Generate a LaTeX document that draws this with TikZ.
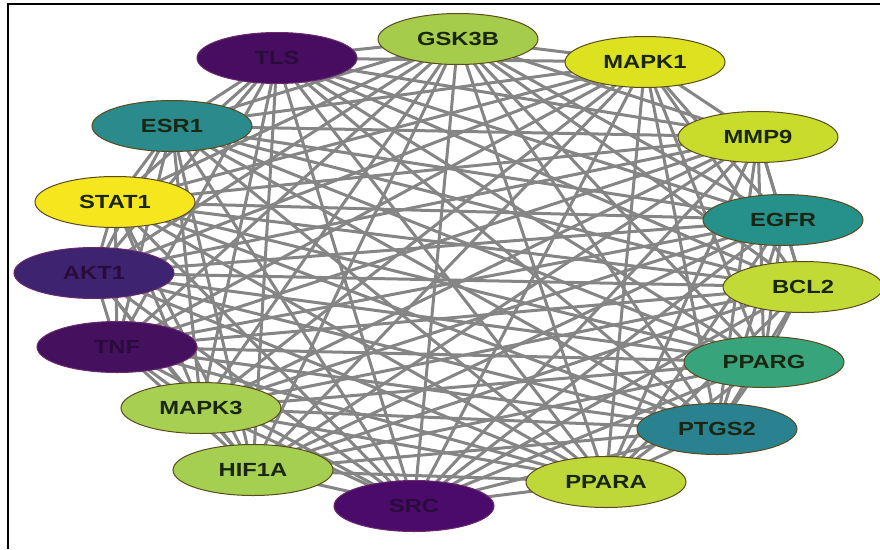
\documentclass[tikz,border=0pt]{standalone}
\usepackage{fontspec}
\setmainfont{Liberation Sans}
\usetikzlibrary{shapes.geometric,backgrounds}

\definecolor{edgegray}{HTML}{858585}
\definecolor{rimc}{HTML}{5A4A1E}
\definecolor{rimdark}{HTML}{6A2A6A}
\definecolor{cTLS}{HTML}{470D60}
\definecolor{cGSK}{HTML}{A5CC4A}
\definecolor{cMAPKa}{HTML}{DCE21F}
\definecolor{cMMP}{HTML}{C8DC2C}
\definecolor{cEGFR}{HTML}{26908A}
\definecolor{cBCL}{HTML}{C2DA36}
\definecolor{cPPARG}{HTML}{38A47C}
\definecolor{cPTGS}{HTML}{2A8290}
\definecolor{cPPARA}{HTML}{BED83A}
\definecolor{cSRC}{HTML}{4B0B6A}
\definecolor{cHIF}{HTML}{A4CF50}
\definecolor{cMAPKc}{HTML}{A7D052}
\definecolor{cTNF}{HTML}{45115F}
\definecolor{cAKT}{HTML}{3D2370}
\definecolor{cSTAT}{HTML}{F6E61E}
\definecolor{cESR}{HTML}{2A8A8C}
\definecolor{txtdark}{HTML}{1A2612}
\definecolor{txtpurple}{HTML}{2A0C3C}

\newcommand{\genelabel}[1]{\scalebox{1.25}[1]{\fontsize{19}{20}\selectfont\bfseries #1}}

\tikzset{
  gene/.style={ellipse, minimum width=160pt, minimum height=51pt, inner sep=0pt,
    line width=1pt, draw=rimc, text=txtdark},
  darkgene/.style={gene, draw=rimdark, text=txtpurple},
  link/.style={draw=edgegray, line width=3pt},
}

\begin{document}
\begin{tikzpicture}[x=1pt,y=-1pt]
\useasboundingbox (0,0) rectangle (880,549);

% gene nodes
\node[darkgene, fill=cTLS]   (TLS)   at (277,58)  {\genelabel{TLS}};
\node[gene, fill=cGSK]       (GSK3B) at (458,39)  {\genelabel{GSK3B}};
\node[gene, fill=cMAPKa]     (MAPK1) at (645,62)  {\genelabel{MAPK1}};
\node[gene, fill=cMMP]       (MMP9)  at (758,137) {\genelabel{MMP9}};
\node[gene, fill=cEGFR]      (EGFR)  at (783,220) {\genelabel{EGFR}};
\node[gene, fill=cBCL]       (BCL2)  at (803,287) {\genelabel{BCL2}};
\node[gene, fill=cPPARG]     (PPARG) at (764,362) {\genelabel{PPARG}};
\node[gene, fill=cPTGS]      (PTGS2) at (717,429) {\genelabel{PTGS2}};
\node[gene, fill=cPPARA]     (PPARA) at (606,482) {\genelabel{PPARA}};
\node[darkgene, fill=cSRC]   (SRC)   at (414,506) {\genelabel{SRC}};
\node[gene, fill=cHIF]       (HIF1A) at (253,470) {\genelabel{HIF1A}};
\node[gene, fill=cMAPKc]     (MAPK3) at (201,408) {\genelabel{MAPK3}};
\node[darkgene, fill=cTNF]   (TNF)   at (117,347) {\genelabel{TNF}};
\node[darkgene, fill=cAKT]   (AKT1)  at (94,273)  {\genelabel{AKT1}};
\node[gene, fill=cSTAT]      (STAT1) at (115,202) {\genelabel{STAT1}};
\node[gene, fill=cESR]       (ESR1)  at (172,126) {\genelabel{ESR1}};

% interactions: every pair of genes, drawn beneath the nodes
\begin{pgfonlayer}{background}
\fill[white] (0,0) rectangle (880,549);
\foreach \a [count=\i] in {TLS,GSK3B,MAPK1,MMP9,EGFR,BCL2,PPARG,PTGS2,PPARA,SRC,HIF1A,MAPK3,TNF,AKT1,STAT1,ESR1}{
  \foreach \b [count=\j] in {TLS,GSK3B,MAPK1,MMP9,EGFR,BCL2,PPARG,PTGS2,PPARA,SRC,HIF1A,MAPK3,TNF,AKT1,STAT1,ESR1}{
    \ifnum\j>\i
      \draw[link] (\a.center) -- (\b.center);
    \fi
  }
}
\end{pgfonlayer}

% frame: top and left rules
\draw[line width=2pt] (8,549) -- (8,4) -- (880,4);
\end{tikzpicture}
\end{document}
